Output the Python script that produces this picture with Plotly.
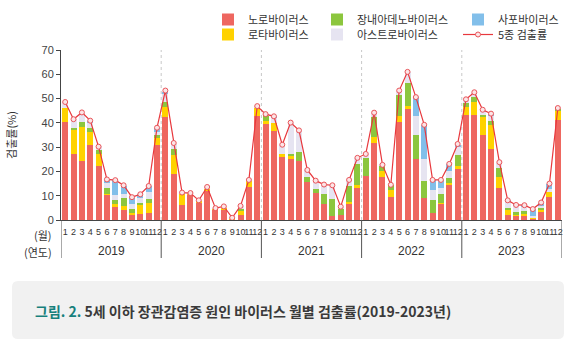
import re
import plotly.graph_objects as go

# ---------------- data ----------------
years = ["2019", "2020", "2021", "2022", "2023"]
months = ["1", "2", "3", "4", "5", "6", "7", "8", "9", "10", "11", "12"]

noro = [40.2, 27.0, 24.2, 31.0, 22.3, 10.4, 5.3, 4.2, 1.9, 2.5, 2.7, 30.9,
        42.4, 19.0, 6.3, 10.4, 7.4, 12.2, 4.3, 4.3, 0.3, 2.0, 13.6, 43.0,
        39.7, 36.5, 26.0, 25.2, 24.1, 15.6, 11.2, 6.7, 1.6, 2.1, 6.6, 13.1,
        18.3, 31.8, 17.9, 9.6, 40.4, 46.1, 25.3, 9.1, 2.9, 6.6, 14.5, 20.8,
        43.1, 43.1, 35.1, 29.3, 13.2, 2.0, 1.8, 1.8, 0.5, 3.4, 9.3, 41.2]
rota = [5.8, 10.3, 14.3, 5.1, 5.0, 0.3, 1.3, 1.4, 1.1, 4.0, 4.2, 2.7,
        4.2, 7.6, 4.7, 0.6, 0.6, 0.7, 0.3, 0.9, 0.5, 1.9, 2.5, 3.4,
        1.0, 3.6, 1.0, 1.0, 0.0, 0.0, 0.0, 0.0, 0.0, 0.0, 0.7, 1.4,
        0.0, 2.4, 2.1, 2.9, 2.3, 0.7, 0.0, 0.0, 0.0, 0.5, 0.8, 1.4,
        3.5, 5.5, 7.3, 10.0, 4.7, 2.3, 0.3, 0.7, 0.6, 1.1, 2.4, 3.7]
adeno = [0.0, 0.4, 1.8, 1.9, 1.5, 2.6, 1.8, 3.4, 1.6, 0.3, 1.6, 1.3,
         2.0, 2.5, 0.0, 0.0, 0.0, 0.0, 0.0, 0.0, 0.0, 0.7, 0.0, 0.0,
         2.0, 0.0, 0.0, 1.1, 3.9, 2.0, 1.6, 4.2, 6.9, 2.4, 6.6, 8.4,
         7.3, 8.2, 2.5, 2.0, 8.7, 9.7, 9.8, 6.9, 5.2, 3.6, 1.9, 4.7,
         1.7, 2.1, 1.0, 1.3, 3.4, 0.7, 1.2, 1.1, 0.0, 0.6, 0.0, 1.1]
astro = [2.5, 3.7, 3.9, 2.0, 1.5, 2.1, 2.0, 1.9, 1.8, 2.2, 3.2, 1.4,
         3.6, 2.4, 0.3, 0.1, 0.1, 0.6, 0.3, 0.4, 0.1, 1.1, 0.4, 0.5,
         0.9, 2.2, 4.0, 12.8, 8.9, 3.0, 3.4, 3.7, 5.8, 1.0, 2.5, 2.5,
         1.6, 1.6, 0.2, 0.0, 1.7, 4.5, 7.8, 9.1, 4.3, 2.3, 2.8, 3.1,
         1.2, 1.8, 1.8, 2.1, 2.3, 2.5, 2.6, 1.9, 0.7, 0.6, 1.0, 0.1]
sapo = [0.0, 0.0, 0.0, 0.9, 0.0, 1.5, 6.0, 3.3, 2.8, 1.8, 2.2, 1.6,
        0.6, 0.0, 0.0, 0.0, 0.0, 0.0, 0.0, 0.0, 0.0, 0.0, 0.0, 0.0,
        0.0, 0.4, 0.0, 0.0, 0.0, 0.0, 0.0, 0.0, 0.0, 0.0, 0.0, 0.0,
        0.0, 0.0, 0.0, 0.0, 0.0, 0.0, 7.8, 14.0, 3.9, 3.5, 2.9, 1.0,
        0.0, 0.0, 0.0, 1.1, 0.0, 0.5, 0.3, 0.6, 2.6, 1.5, 2.1, 0.0]
total = [48.6, 41.5, 44.3, 40.9, 30.2, 16.7, 16.4, 14.3, 9.4, 10.6, 14.0, 38.0,
         53.3, 31.7, 11.3, 11.1, 8.1, 13.6, 4.9, 5.6, 0.9, 5.8, 16.5, 46.9,
         43.6, 42.7, 31.0, 40.1, 36.9, 20.6, 16.2, 14.6, 14.3, 5.5, 16.5, 25.6,
         27.2, 44.2, 22.7, 14.5, 53.3, 61.0, 50.6, 39.2, 16.5, 16.5, 23.1, 31.3,
         49.7, 52.6, 45.4, 43.8, 23.8, 8.1, 6.2, 6.1, 4.5, 7.2, 15.0, 46.1]

names = ["노로바이러스", "로타바이러스", "장내아데노바이러스", "아스트로바이러스", "사포바이러스", "5종 검출률"]
colors = ["#EE6760", "#FFD200", "#8CC63E", "#E6E4F1", "#82BFEA", "#E8383D"]

title_text = "5세 이하 장관감염증 원인 바이러스 월별 검출률(2019-2023년)"
fig_label = "그림. 2."

# ---------------- geometry helpers ----------------
W, H = 579, 350
L, R, T, B = 61, 17, 50, 130
PW, PH = W - L - R, H - T - B


def px_x(p):
    return (p - L) / PW


def px_y(p):
    return (H - B - p) / PH


cats = [f"{y}-{m}" for y in years for m in months]
ticktext = [m for y in years for m in months]

FONT = "Liberation Sans, Arial, Noto Sans CJK KR, sans-serif"
KFONT = "Noto Sans CJK KR, Liberation Sans, sans-serif"

fig = go.Figure()
series = [noro, rota, adeno, astro, sapo]
legend_ids = ["legend", "legend2", "legend3", "legend4", "legend5"]
for vals, nm, col, lg in zip(series, names[:5], colors[:5], legend_ids):
    fig.add_trace(go.Bar(x=cats, y=vals, name=nm, marker=dict(color=col, line=dict(width=0)),
                         legend=lg, showlegend=True))
fig.add_trace(go.Scatter(x=cats, y=total, name=names[5], mode="lines+markers",
                         line=dict(color=colors[5], width=1.2),
                         marker=dict(symbol="circle", size=5, color="#FCE4E6",
                                     line=dict(color="#E8555A", width=1)),
                         legend="legend6", showlegend=True))

# legend placement (text start x, row center y) in pixels
leg_pos = {
    "legend": (248, 19.5), "legend2": (248, 34.5),
    "legend3": (357, 19.5), "legend4": (357, 34.5),
    "legend5": (498, 19.5), "legend6": (498, 34.5),
}
legends = {}
for k, (tx, ty) in leg_pos.items():
    legends[k] = dict(x=px_x(tx - 40), y=px_y(ty), xref="paper", yref="paper",
                      xanchor="left", yanchor="middle", orientation="v",
                      bgcolor="rgba(0,0,0,0)", borderwidth=0,
                      font=dict(family=KFONT, size=11, color="#333333"))

shapes = []
# dotted separators inside plot
for i in range(1, len(years)):
    shapes.append(dict(type="line", xref="x", yref="paper", x0=i * 12 - 0.5, x1=i * 12 - 0.5,
                       y0=0, y1=1, line=dict(color="#C8C8C8", width=1, dash="dot"), layer="below"))
# dividers below axis
for i in range(0, len(years) + 1):
    shapes.append(dict(type="line", xref="x", yref="paper", x0=i * 12 - 0.5, x1=i * 12 - 0.5,
                       y0=0, y1=px_y(258), line=dict(color="#555555", width=1)))
# caption box (rounded)
x0, x1, y0, y1, r = 12, 564, 281, 339, 6
path = (f"M {x0 + r},{y0} L {x1 - r},{y0} Q {x1},{y0} {x1},{y0 + r} "
        f"L {x1},{y1 - r} Q {x1},{y1} {x1 - r},{y1} L {x0 + r},{y1} "
        f"Q {x0},{y1} {x0},{y1 - r} L {x0},{y0 + r} Q {x0},{y0} {x0 + r},{y0} Z")


def conv(m):
    a, b = float(m.group(1)), float(m.group(2))
    return f"{px_x(a):.5f},{px_y(b):.5f}"


path_paper = re.sub(r"([\d.]+),([\d.]+)", conv, path)
shapes.append(dict(type="path", xref="paper", yref="paper", path=path_paper,
                   fillcolor="#F1F1F1", line=dict(width=0), layer="below"))

annotations = []
for i, y in enumerate(years):
    annotations.append(dict(x=i * 12 + 5.5, y=px_y(251), xref="x", yref="paper", text=y,
                            showarrow=False, xanchor="center", yanchor="middle",
                            font=dict(family=FONT, size=12, color="#333333")))
annotations.append(dict(x=px_x(54), y=px_y(234.5), xref="paper", yref="paper", text="(월)",
                        showarrow=False, xanchor="right", yanchor="middle",
                        font=dict(family=KFONT, size=11, color="#333333")))
annotations.append(dict(x=px_x(54), y=px_y(251.5), xref="paper", yref="paper", text="(연도)",
                        showarrow=False, xanchor="right", yanchor="middle",
                        font=dict(family=KFONT, size=11, color="#333333")))
annotations.append(dict(x=px_x(33), y=px_y(311), xref="paper", yref="paper",
                        text=f"<b><span style='color:#17807C'>{fig_label}</span> {title_text}</b>",
                        showarrow=False, xanchor="left", yanchor="middle",
                        font=dict(family=KFONT, size=14, color="#3A3A3A")))

fig.update_layout(
    width=W, height=H, showlegend=True,
    margin=dict(l=L, r=R, t=T, b=B, pad=0, autoexpand=False),
    paper_bgcolor="white", plot_bgcolor="white",
    barmode="stack", bargap=0.28,
    shapes=shapes, annotations=annotations,
    font=dict(family=FONT, size=11, color="#333333"),
    **legends,
)
fig.update_xaxes(type="category", categoryorder="array", categoryarray=cats,
                 tickmode="array", tickvals=cats, ticktext=ticktext, tickangle=0,
                 tickfont=dict(family="Liberation Sans Narrow, Liberation Sans, Arial", size=9, color="#333333"),
                 ticks="", ticklabelstandoff=3, showline=True, linecolor="#444444", linewidth=1,
                 showgrid=False, zeroline=False, range=[-0.5, len(cats) - 0.5])
fig.update_yaxes(range=[0, 70], tickvals=[0, 10, 20, 30, 40, 50, 60, 70],
                 showline=True, linecolor="#444444", linewidth=1, ticks="outside", ticklen=4,
                 tickcolor="#444444", showgrid=False, zeroline=False,
                 tickfont=dict(family=FONT, size=11, color="#444444"),
                 title=dict(text="검출률(%)", font=dict(family=KFONT, size=11, color="#333333"),
                            standoff=22))

fig.write_html("out.html")
